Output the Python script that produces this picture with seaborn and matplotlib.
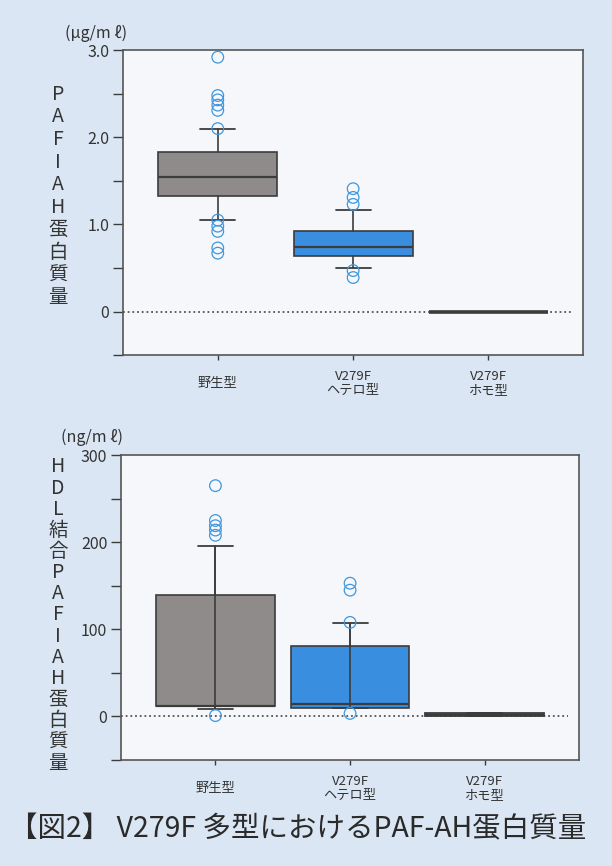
import numpy as np
import pandas as pd
import matplotlib
matplotlib.use("Agg")
import matplotlib.pyplot as plt
import seaborn as sns

# ---- data ---------------------------------------------------------------
groups = ["野生型", "V279F\nヘテロ型", "V279F\nホモ型"]

# PAF-AH 蛋白質量 (μg/mℓ)
pafah_q1 = [1.33, 0.635, 0.0]
pafah_median = [1.54, 0.74, 0.0]
pafah_q3 = [1.83, 0.93, 0.0]
pafah_low = [1.05, 0.50, 0.0]
pafah_high = [2.10, 1.17, 0.0]
pafah_outliers = [
    [2.92, 2.48, 2.43, 2.37, 2.31, 2.10, 1.05, 0.98, 0.92, 0.73, 0.67],
    [1.41, 1.31, 1.23, 0.47, 0.39],
    [],
]

# HDL 結合 PAF-AH 蛋白質量 (ng/mℓ)
hdl_q1 = [11.5, 9.5, 0.0]
hdl_median = [12.0, 14.5, 1.5]
hdl_q3 = [139.0, 81.0, 3.5]
hdl_low = [8.5, 10.0, 0.0]
hdl_high = [196.0, 107.0, 3.5]
hdl_outliers = [
    [265, 225, 219, 214, 208, 1],
    [153, 145, 108, 3.5],
    [],
]

# ---- style --------------------------------------------------------------
sns.set_theme(style="ticks")
plt.rcParams["font.family"] = ["Noto Sans CJK JP", "DejaVu Sans"]

PAGE = "#dae6f3"
PANEL = "#f6f7fa"
EDGE = "#3c3c3c"
GRAY = "#8f8b8b"
BLUE = "#3a8ee0"
RING = "#3f97dc"
TEXT = "#333333"

fig = plt.figure(figsize=(6.12, 8.66), dpi=100, facecolor=PAGE)
ax_top = fig.add_axes([0.201, 0.590, 0.752, 0.352])
ax_bot = fig.add_axes([0.198, 0.1224, 0.748, 0.352])


def draw_panel(ax, q1, med, q3, low, high, outliers, fills, box_lw,
               through_whisker):
    pos = np.arange(len(groups))
    stats = [dict(q1=a, med=m, q3=b, whislo=lo, whishi=hi, fliers=[])
             for a, m, b, lo, hi in zip(q1, med, q3, low, high)]
    art = ax.bxp(stats, positions=pos, widths=0.88, capwidths=0.26,
                 patch_artist=True, showfliers=False,
                 whiskerprops=dict(color=EDGE, lw=1.2),
                 capprops=dict(color=EDGE, lw=1.3),
                 medianprops=dict(color=EDGE, lw=1.6),
                 boxprops=dict(edgecolor=EDGE, lw=1.2), zorder=3)
    for patch, fc, lw in zip(art["boxes"], fills, box_lw):
        patch.set_facecolor(fc)
        patch.set_linewidth(lw)
    if through_whisker:
        ax.vlines(pos[:2], low[:2], high[:2], color=EDGE, lw=1.2, zorder=4)

    rows = [(p, v) for p, vals in zip(pos, outliers) for v in vals]
    df = pd.DataFrame(rows, columns=["pos", "value"])
    sns.scatterplot(data=df, x="pos", y="value", ax=ax, marker="o", s=70,
                    facecolor="none", edgecolor=RING, linewidth=0.9,
                    zorder=5, legend=False)

    ax.axhline(0, xmin=0.0, xmax=0.975, color="#555555", lw=1.3,
               ls=(0, (1, 1.6)), zorder=2)
    ax.set_xlim(-0.7, 2.7)
    ax.set_xticks(pos)
    ax.set_xticklabels(groups, fontsize=9.5, va="center", linespacing=1.15,
                       color=TEXT)
    ax.tick_params(axis="x", length=3.5, width=1.0, pad=17, color=EDGE)
    ax.tick_params(axis="y", length=7.5, width=1.0, pad=2.5, color=EDGE,
                   labelsize=11.5, labelcolor=TEXT)
    ax.set_xlabel("")
    ax.set_ylabel("")
    ax.set_facecolor(PANEL)
    for s in ax.spines.values():
        s.set_color("#555555")
        s.set_linewidth(1.2)


# top panel: PAF-AH
draw_panel(ax_top, pafah_q1, pafah_median, pafah_q3, pafah_low, pafah_high,
           pafah_outliers, [GRAY, BLUE, EDGE], [1.2, 1.2, 2.6], False)
ax_top.set_ylim(-0.5, 3.0)
ax_top.set_yticks(np.arange(-0.5, 3.01, 0.5))
ax_top.set_yticklabels(["", "0", "", "1.0", "", "2.0", "", "3.0"])

# bottom panel: HDL-bound PAF-AH
draw_panel(ax_bot, hdl_q1, hdl_median, hdl_q3, hdl_low, hdl_high,
           hdl_outliers, [GRAY, BLUE, GRAY], [1.2, 1.2, 1.3], True)
ax_bot.set_ylim(-50, 300)
ax_bot.set_yticks(np.arange(-50, 301, 50))
ax_bot.set_yticklabels(["", "0", "", "100", "", "200", "", "300"])

# units and stacked vertical axis titles
fig.text(0.157, 1 - 33 / 866, "(μg/m ℓ)", fontsize=11.5, ha="center",
         va="center", color=TEXT)
fig.text(0.150, 1 - 437 / 866, "(ng/m ℓ)", fontsize=11.5, ha="center",
         va="center", color=TEXT)

top_title = "PAFIAH蛋白質量"
bot_title = "HDL結合PAFIAH蛋白質量"
fig.text(0.095, 1 - 196 / 866, "\n".join(top_title), fontsize=14,
         ha="center", va="center", linespacing=1.10, color=TEXT)
fig.text(0.095, 1 - 615 / 866, "\n".join(bot_title), fontsize=14,
         ha="center", va="center", linespacing=1.01, color=TEXT)

fig.text(0.487, 1 - 829 / 866, "【図2】 V279F 多型におけるPAF-AH蛋白質量",
         fontsize=20.5, ha="center", va="center", color="#2a2a2a")

fig.savefig("out.png", dpi=100, facecolor=PAGE)
